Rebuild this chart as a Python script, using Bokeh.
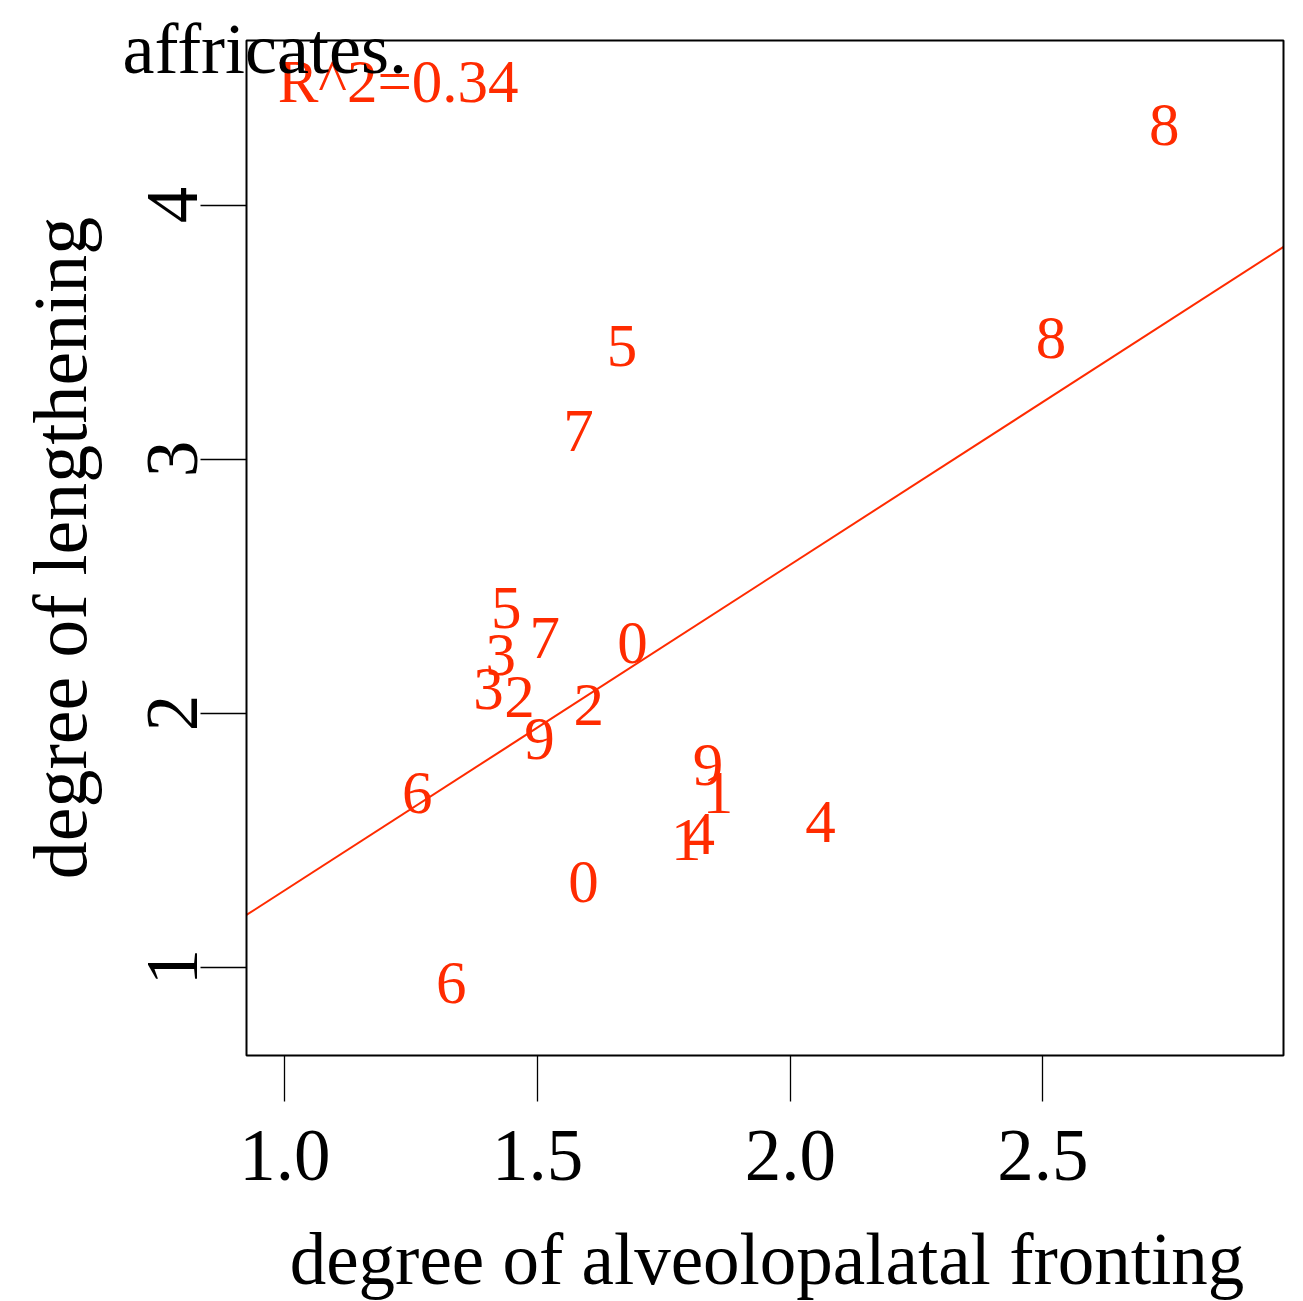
from bokeh.plotting import figure
from bokeh.models import FixedTicker, PrintfTickFormatter, Label, BoxAnnotation, ColumnDataSource, Range1d
from bokeh.embed import file_html
from bokeh.resources import INLINE
import math

# ---- data ----
labels = ["8", "8", "5", "7", "5", "7", "3", "0", "3", "2",
          "2", "9", "6", "9", "1", "1", "4", "4", "0", "6"]
fronting = [2.740, 2.516, 1.667, 1.581, 1.438, 1.514, 1.427, 1.688, 1.403, 1.464,
            1.601, 1.504, 1.262, 1.837, 1.857, 1.794, 1.821, 2.060, 1.591, 1.329]
lengthening = [4.315, 3.476, 3.444, 3.109, 2.415, 2.297, 2.230, 2.277, 2.096, 2.064,
               2.033, 1.899, 1.686, 1.796, 1.686, 1.501, 1.524, 1.572, 1.335, 0.937]
fit_intercept = 0.021
fit_slope = 1.2817
r2_text = "R^2=0.34"
x_ticks = [1.0, 1.5, 2.0, 2.5]
y_ticks = [1, 2, 3, 4]
title_text = "affricates."
x_title = "degree of alveolopalatal fronting"
y_title = "degree of lengthening"

# plot box (R usr coordinates)
X0, X1 = 0.924, 2.976
Y0, Y1 = 0.652, 4.648

RED = "#ff2b00"
FONT = "Liberation Serif"

# canvas extents in data units so the plot box sits where R put it
W, H = 1303, 1301
BOX_L, BOX_R, BOX_T, BOX_B = 246, 1283, 40, 1055
sx = (X1 - X0) / (BOX_R - BOX_L)
sy = (Y1 - Y0) / (BOX_B - BOX_T)
xr = Range1d(X0 - BOX_L * sx, X1 + (W - BOX_R) * sx)
yr = Range1d(Y0 - (H - BOX_B) * sy, Y1 + BOX_T * sy)

p = figure(width=W, height=H, output_backend="svg", toolbar_location=None,
           x_range=xr, y_range=yr, min_border=0)
p.background_fill_color = "white"
p.border_fill_color = "white"
p.grid.visible = False
p.outline_line_color = None

for ax in (p.xaxis[0], p.yaxis[0]):
    ax.axis_line_color = None
    ax.major_tick_out = 46
    ax.major_tick_in = 0
    ax.minor_tick_out = 0
    ax.minor_tick_in = 0
    ax.major_tick_line_width = 1.3
    ax.major_tick_line_color = "black"
    ax.major_label_text_font = FONT
    ax.major_label_text_font_size = "73px"
    ax.major_label_text_color = "black"

p.xaxis[0].fixed_location = Y0
p.xaxis[0].ticker = FixedTicker(ticks=x_ticks)
p.xaxis[0].formatter = PrintfTickFormatter(format="%.1f")
p.xaxis[0].major_label_standoff = 29

p.yaxis[0].fixed_location = X0
p.yaxis[0].ticker = FixedTicker(ticks=y_ticks)
p.yaxis[0].formatter = PrintfTickFormatter(format="%d")
p.yaxis[0].major_label_orientation = "vertical"
p.yaxis[0].major_label_standoff = 3

# plot box
p.add_layout(BoxAnnotation(left=X0, right=X1, bottom=Y0, top=Y1,
                           fill_color=None, fill_alpha=0,
                           line_color="black", line_alpha=1, line_width=2))

# regression line across the plot box
fit_x = [X0, X1]
fit_y = [fit_intercept + fit_slope * v for v in fit_x]
p.line(fit_x, fit_y, line_color=RED, line_width=2)

src = ColumnDataSource(dict(x=fronting, y=lengthening, t=labels))
p.text(x="x", y="y", text="t", source=src, text_color=RED,
       text_font={"value": FONT}, text_font_size="61px",
       text_align="center", text_baseline="middle")

p.add_layout(Label(x=1.224, y=4.485, text=r2_text, text_color=RED,
                   text_font=FONT, text_font_size="61px",
                   text_align="center", text_baseline="middle"))

p.add_layout(Label(x=X0 - 124 * sx, y=Y1 - 8 * sy, text=title_text, text_color="black",
                   text_font=FONT, text_font_size="72px",
                   text_align="left", text_baseline="middle"))

p.add_layout(Label(x=X0 + 520.5 * sx, y=Y1 - 1219 * sy, text=x_title, text_color="black",
                   text_font=FONT, text_font_size="73px",
                   text_align="center", text_baseline="middle"))

p.add_layout(Label(x=X0 - 187 * sx, y=(Y0 + Y1) / 2, text=y_title, text_color="black",
                   text_font=FONT, text_font_size="76px", angle=math.pi / 2,
                   text_align="center", text_baseline="middle"))

open("out.html", "w").write(file_html(p, INLINE))
